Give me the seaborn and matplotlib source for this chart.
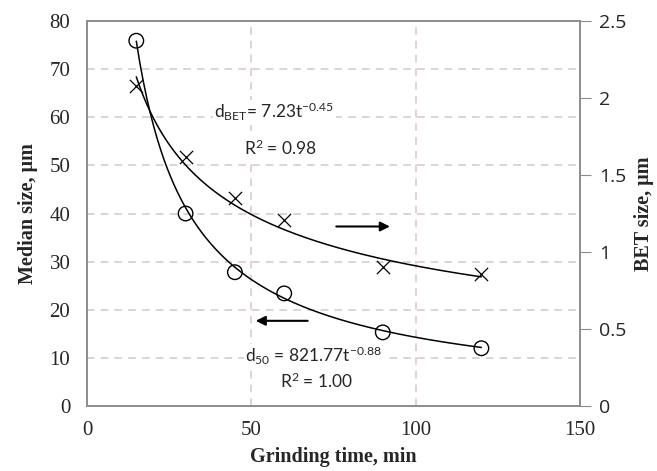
import numpy as np
import pandas as pd
import matplotlib
matplotlib.use('Agg')
import matplotlib.pyplot as plt
import seaborn as sns

# grinding time, min
time_min = [15, 30, 45, 60, 90, 120]
median_size = [75.9, 40.0, 27.8, 23.4, 15.3, 12.0]   # d50, um (left axis)
bet_size = [2.08, 1.62, 1.35, 1.21, 0.90, 0.855]      # d_BET, um (right axis)

# power-law fit coefficients shown on the chart: d = a * t^b
d50_fit = (821.77, -0.88)
bet_fit = (7.23, -0.45)

sns.set_style('white')
plt.rcParams['font.family'] = ['Liberation Serif', 'DejaVu Serif']
plt.rcParams['mathtext.fontset'] = 'custom'
plt.rcParams['mathtext.rm'] = 'Lato'
plt.rcParams['mathtext.it'] = 'Lato:italic'
plt.rcParams['mathtext.bf'] = 'Lato:bold'
plt.rcParams['axes.unicode_minus'] = False

df = pd.DataFrame({'t': time_min, 'd50': median_size, 'bet': bet_size})
t_fit = np.linspace(min(time_min), max(time_min), 200)
fit = pd.DataFrame({'t': t_fit,
                    'd50': d50_fit[0] * t_fit ** d50_fit[1],
                    'bet': bet_fit[0] * t_fit ** bet_fit[1]})

fig = plt.figure(figsize=(6.57, 4.71), dpi=100)
ax = fig.add_axes([0.1324, 0.138, 0.7504, 0.8174])
ax2 = ax.twinx()

grid_col = '#d8c6c6'
for v in [10, 20, 30, 40, 50, 60, 70]:
    ax.axhline(v, color=grid_col, ls=(0, (5, 4)), lw=1.1, zorder=0)
for v in [50, 100]:
    ax.axvline(v, color=grid_col, ls=(0, (5, 4)), lw=1.1, zorder=0)

sns.lineplot(data=fit, x='t', y='d50', ax=ax, color='black', lw=1.1, zorder=3)
sns.scatterplot(data=df, x='t', y='d50', ax=ax, marker='o', s=110,
                facecolor='none', edgecolor='black', linewidth=1, zorder=4)
sns.lineplot(data=fit, x='t', y='bet', ax=ax2, color='black', lw=1.1, zorder=3)
sns.scatterplot(data=df, x='t', y='bet', ax=ax2, marker='x', s=90,
                color='black', linewidth=0.9, zorder=4)

ax.set_xlim(0, 150)
ax.set_ylim(0, 80)
ax2.set_ylim(0, 2.5)
ax.set_xticks([0, 50, 100, 150])
ax.set_yticks(range(0, 90, 10))
ax2.set_yticks([0, 0.5, 1, 1.5, 2, 2.5])
ax2.set_yticklabels(['0', '0.5', '1', '1.5', '2', '2.5'])

spine_col = '#8c8c8c'
for a in (ax, ax2):
    for s in a.spines.values():
        s.set_color(spine_col)
        s.set_linewidth(1.2)

ax.tick_params(axis='y', length=0, pad=12, labelsize=15)
ax.tick_params(axis='x', length=5, color=spine_col, pad=6, labelsize=15)
ax2.tick_params(axis='y', length=8, color=spine_col, pad=6, labelsize=14,
                labelfontfamily='Open Sans')

ax.set_xlabel('Grinding time, min', fontsize=14.5, fontweight='bold', labelpad=5)
ax.set_ylabel('Median size, μm', fontsize=14.5, fontweight='bold', labelpad=8)
ax2.set_ylabel('BET size, μm', fontsize=14.5, fontweight='bold', labelpad=5)

txt = dict(fontsize=12.5, family='Lato', ha='center', va='center',
           bbox=dict(facecolor='white', edgecolor='none', pad=1), zorder=5)
ax.text(57, 61, r'd$_{\mathrm{BET}}$= 7.23t$^{-0.45}$', **txt)
ax.text(59, 53.6, r'R$^2$ = 0.98', **txt)
ax.text(69, 10.3, r'd$_{50}$ = 821.77t$^{-0.88}$', **txt)
ax.text(70, 5.1, r'R$^2$ = 1.00', **txt)

ax.annotate('', xy=(93, 37.3), xytext=(75, 37.3),
            arrowprops=dict(arrowstyle='-|>', color='black', lw=1.5, mutation_scale=14))
ax.annotate('', xy=(50.5, 17.7), xytext=(68, 17.7),
            arrowprops=dict(arrowstyle='-|>', color='black', lw=1.5, mutation_scale=14))

fig.savefig('out.png', dpi=100)
